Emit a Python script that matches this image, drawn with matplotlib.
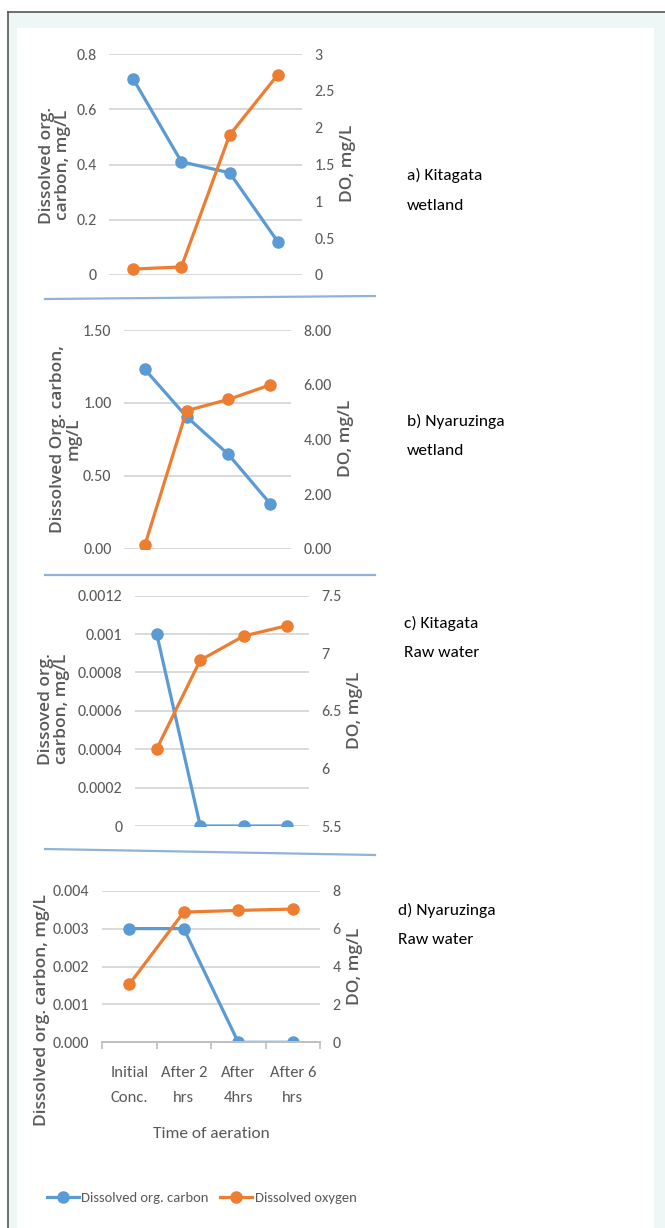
import matplotlib
matplotlib.use('Agg')
from matplotlib import pyplot as plt
from matplotlib.lines import Line2D
from matplotlib.patches import Rectangle

W, H = 665, 1228
NARROW = ['Carlito', 'Liberation Sans Narrow', 'Roboto Condensed', 'DejaVu Sans']
BLUE = '#5b9bd5'
ORANGE = '#ed7d31'
GRAY = '#595959'

stages = ['Initial\nConc.', 'After 2\nhrs', 'After\n4hrs', 'After 6\nhrs']

# a) Kitagata wetland
doc_a = [0.71, 0.41, 0.37, 0.12]
do_a = [0.08, 0.11, 1.90, 2.72]
# b) Nyaruzinga wetland
doc_b = [1.23, 0.905, 0.647, 0.309]
do_b = [0.13, 5.05, 5.46, 5.99]
# c) Kitagata raw water
doc_c = [0.001, 0, 0, 0]
do_c = [6.17, 6.94, 7.15, 7.24]
# d) Nyaruzinga raw water
doc_d = [0.003, 0.003, 0, 0]
do_d = [3.06, 6.87, 6.96, 7.03]

ticks_a = [0, 0.2, 0.4, 0.6, 0.8]
labels_a = ['0', '0.2', '0.4', '0.6', '0.8']
rticks_a = [0, 0.5, 1, 1.5, 2, 2.5, 3]
rlabels_a = ['0', '0.5', '1', '1.5', '2', '2.5', '3']
ticks_b = [0, 0.5, 1.0, 1.5]
labels_b = ['0.00', '0.50', '1.00', '1.50']
rticks_b = [0, 2, 4, 6, 8]
rlabels_b = ['0.00', '2.00', '4.00', '6.00', '8.00']
ticks_c = [0, 0.0002, 0.0004, 0.0006, 0.0008, 0.001, 0.0012]
labels_c = ['0', '0.0002', '0.0004', '0.0006', '0.0008', '0.001', '0.0012']
rticks_c = [5.5, 6, 6.5, 7, 7.5]
rlabels_c = ['5.5', '6', '6.5', '7', '7.5']
ticks_d = [0, 0.001, 0.002, 0.003, 0.004]
labels_d = ['0.000', '0.001', '0.002', '0.003', '0.004']
rticks_d = [0, 2, 4, 6, 8]
rlabels_d = ['0', '2', '4', '6', '8']


def fx(px):
    return px / W


def fy(py):
    return 1 - py / H


fig = plt.figure(figsize=(W / 100, H / 100), dpi=100)
fig.patch.set_facecolor('white')

# page background and frame
fig.patches.append(Rectangle((fx(8), 0), 1 - fx(8), fy(12), transform=fig.transFigure,
                             facecolor='#eef7f5', edgecolor='none', zorder=-3))
fig.patches.append(Rectangle((fx(17), 0), fx(654) - fx(17), fy(28), transform=fig.transFigure,
                             facecolor='white', edgecolor='none', zorder=-2))
fig.add_artist(Line2D([fx(8), fx(8)], [0, fy(12)], color='#555555', lw=1.2))
fig.add_artist(Line2D([fx(8), 1], [fy(12), fy(12)], color='#555555', lw=1.2))


def panel(L, R, T, B, doc, do, lticks, llabels, rticks, rlabels, rlim, bottom=False):
    ax = fig.add_axes([fx(L), fy(B), fx(R) - fx(L), (B - T) / H])
    ax.set_facecolor('none')
    x = range(len(doc))
    ax.plot(x, doc, color=BLUE, lw=2.3, marker='o', ms=8, label='Dissolved org. carbon')
    ax.set_xlim(-0.5, len(doc) - 0.5)
    ax.set_ylim(lticks[0], lticks[-1])
    ax.set_yticks(lticks)
    ax.set_yticklabels(llabels, family=NARROW, fontsize=11.5, color=GRAY)
    ax.grid(axis='y', color='#d9d9d9', lw=1.4)
    ax.set_axisbelow(True)
    for s in ax.spines.values():
        s.set_visible(False)
    ax.tick_params(axis='y', length=0, pad=9)
    if bottom:
        ax.spines['bottom'].set_visible(True)
        ax.spines['bottom'].set_color('#bfbfbf')
        ax.spines['bottom'].set_linewidth(1.4)
        ax.set_xticks(list(x))
        ax.set_xticklabels(stages, family=NARROW, fontsize=12, color=GRAY, linespacing=2.05)
        ax.set_xticks([i - 0.5 for i in range(len(doc) + 1)], minor=True)
        ax.tick_params(axis='x', which='major', length=0, pad=17)
        ax.tick_params(axis='x', which='minor', length=5, color='#bfbfbf', width=1.2)
    else:
        ax.set_xticks([])

    ax2 = ax.twinx()
    ax2.plot(x, do, color=ORANGE, lw=2.3, marker='o', ms=8, label='Dissolved oxygen')
    ax2.set_ylim(rlim)
    ax2.set_yticks(rticks)
    ax2.set_yticklabels(rlabels, family=NARROW, fontsize=11.5, color=GRAY)
    ax2.tick_params(axis='y', length=0, pad=9)
    for s in ax2.spines.values():
        s.set_visible(False)
    return ax, ax2


ax_a, ax2_a = panel(109, 302, 54, 275, doc_a, do_a, ticks_a, labels_a, rticks_a, rlabels_a, (0, 3))
panel(124, 291, 330, 548.7, doc_b, do_b, ticks_b, labels_b, rticks_b, rlabels_b, (0, 8))
panel(135, 309, 595.7, 826, doc_c, do_c, ticks_c, labels_c, rticks_c, rlabels_c, (5.5, 7.5))
panel(102, 320, 890.7, 1042.3, doc_d, do_d, ticks_d, labels_d, rticks_d, rlabels_d, (0, 8), bottom=True)

# axis titles
ylab = dict(rotation=90, ha='center', va='center', multialignment='center',
            family='Open Sans', fontweight='semibold', fontsize=12.5, color=GRAY, linespacing=0.95)
fig.text(fx(55), fy(165), 'Dissolved org.\ncarbon, mg/L', **ylab)
fig.text(fx(348), fy(163), 'DO, mg/L', **ylab)
fig.text(fx(66), fy(439), 'Dissolved Org. carbon,\nmg/L', **ylab)
fig.text(fx(346), fy(438), 'DO, mg/L', **ylab)
fig.text(fx(54), fy(709), 'Dissoved org.\ncarbon, mg/L', **ylab)
fig.text(fx(355), fy(710), 'DO, mg/L', **ylab)
fig.text(fx(42), fy(1010), 'Dissolved org. carbon, mg/L', **ylab)
fig.text(fx(355), fy(966), 'DO, mg/L', **ylab)
fig.text(fx(211), fy(1134), 'Time of aeration', ha='center', va='center',
         family=NARROW, fontsize=12.5, color=GRAY)

# panel names
pl = dict(ha='left', va='center', family=NARROW, fontsize=12.5, color='black', linespacing=2.4)
fig.text(fx(407), fy(190.5), 'a) Kitagata\nwetland', **pl)
fig.text(fx(407), fy(436), 'b) Nyaruzinga\nwetland', **pl)
fig.text(fx(404), fy(638), 'c) Kitagata\nRaw water', **pl)
fig.text(fx(398), fy(925), 'd) Nyaruzinga\nRaw water', **pl)

# separators between panels
sep = dict(color='#8fb2d8', lw=1.6)
fig.add_artist(Line2D([fx(45), fx(375)], [fy(299), fy(296)], **sep))
fig.add_artist(Line2D([fx(45), fx(375)], [fy(575), fy(575)], **sep))
fig.add_artist(Line2D([fx(45), fx(375)], [fy(849), fy(855)], **sep))

h1, l1 = ax_a.get_legend_handles_labels()
h2, l2 = ax2_a.get_legend_handles_labels()
fig.legend(h1 + h2, l1 + l2, loc='center left', bbox_to_anchor=(fx(47), fy(1198)),
           ncol=2, frameon=False, prop={'family': NARROW, 'size': 10.5},
           handlelength=2.2, handletextpad=0.15, columnspacing=0.8,
           borderpad=0, borderaxespad=0, labelcolor=GRAY)

fig.savefig('out.png', dpi=100)
